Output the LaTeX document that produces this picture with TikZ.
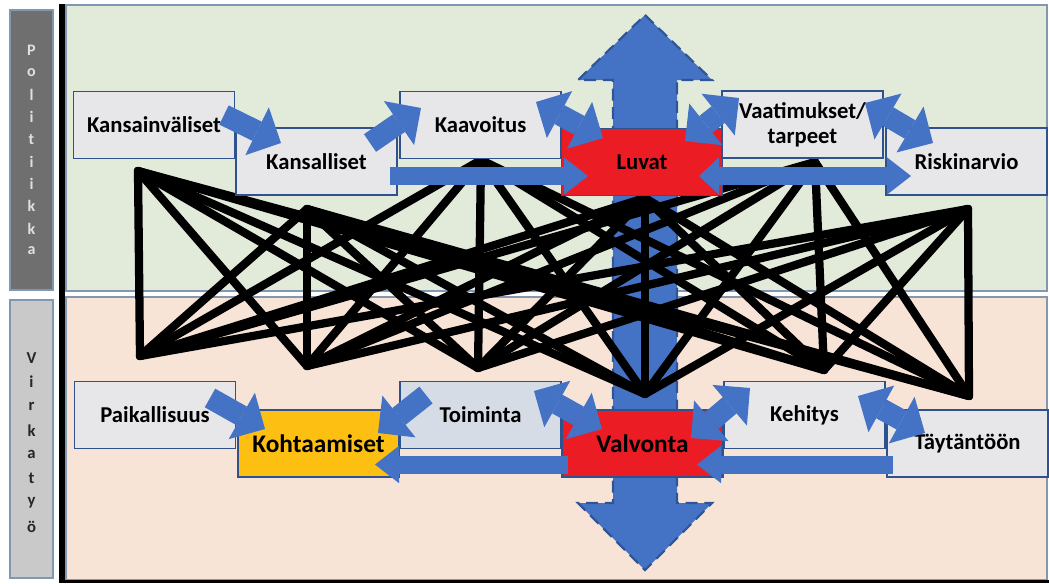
\documentclass[tikz,border=0pt]{standalone}
\usepackage{fontspec}
\setmainfont{Carlito}
\usetikzlibrary{arrows.meta}
\definecolor{bgG}{HTML}{E2EBDA}
\definecolor{bgP}{HTML}{F8E4D7}
\definecolor{boxG}{HTML}{E7E6E8}
\definecolor{boxT}{HTML}{D6DCE5}
\definecolor{bord}{HTML}{2F528F}
\definecolor{ablue}{HTML}{4472C4}
\definecolor{dblue}{HTML}{2F5597}
\definecolor{lred}{HTML}{EC1C24}
\definecolor{kyel}{HTML}{FCBF12}
\definecolor{pgrey}{HTML}{6F6F6F}
\definecolor{vgrey}{HTML}{C9C9C9}
\definecolor{edgeB}{HTML}{8497B0}
\begin{document}
\begin{tikzpicture}[x=0.75pt,y=-0.75pt,
  bx/.style={draw=bord, line width=0.8pt, fill=boxG, minimum width=120.75pt, minimum height=50.25pt,
    inner sep=0pt, align=center, text=black, font=\bfseries\fontsize{17}{18.5}\selectfont},
  big/.style={font=\bfseries\fontsize{19}{20}\selectfont},
  net/.style={line width=6.2pt, line cap=round, line join=round, black},
  sarr/.style={draw=ablue, line width=16pt, -{Triangle[length=20pt,width=40pt,line width=0pt]}},
  darr/.style={draw=ablue, line width=16pt, {Triangle[length=20pt,width=40pt,line width=0pt]}-{Triangle[length=20pt,width=40pt,line width=0pt]}},
  harr/.style={draw=ablue, line width=13.5pt, -{Triangle[length=18pt,width=28pt,line width=0pt]}},
  hdarr/.style={draw=ablue, line width=13.5pt, {Triangle[length=15pt,width=28pt,line width=0pt]}-{Triangle[length=18pt,width=28pt,line width=0pt]}},
  pl/.style={font=\bfseries\fontsize{12}{13}\selectfont, text=black!12, inner sep=0pt},
  vl/.style={font=\bfseries\fontsize{12.5}{13}\selectfont, text=black!85, inner sep=0pt}
]
\useasboundingbox (0,0) rectangle (1049,583);
\fill[white] (0,0) rectangle (1049,583);

% regions
\filldraw[fill=bgG, draw=edgeB, line width=1.2pt] (66,5) rectangle (1047,291);
\filldraw[fill=bgP, draw=edgeB, line width=1.2pt] (66,297) rectangle (1047,580);
\draw[line width=4.5pt] (62,4) -- (62,583);
\draw[line width=2.5pt] (59,581.5) -- (1049,581.5);

% side bars
\filldraw[fill=pgrey, draw=edgeB, line width=0.8pt] (10,10) rectangle (53,290);
\filldraw[fill=vgrey, draw=edgeB, line width=0.8pt] (10,300) rectangle (53,578);
\foreach \ch [count=\i] in {P,o,l,i,t,i,i,k,k,a}
  \node[pl] (pol\i) at (31.5,{50+22.3*(\i-1)}) {\ch};
\foreach \ch [count=\i] in {V,i,r,k,a,t,y,ö}
  \node[vl] (vir\i) at (31.5,{358+24.1*(\i-1)}) {\ch};

% big vertical double arrow
\draw[fill=ablue, draw=dblue, line width=1.6pt, dash pattern=on 9pt off 5pt, line join=miter]
  (645,15) -- (712,80) -- (677,80) -- (677,503) -- (712,503) -- (645,570)
  -- (578,503) -- (613,503) -- (613,80) -- (578,80) -- cycle;

% network points
\coordinate (A) at (138,171);
\coordinate (B) at (307,209);
\coordinate (C) at (481,160);
\coordinate (D) at (645,198);
\coordinate (E) at (815,162);
\coordinate (F) at (968,209);
\coordinate (G) at (140,356);
\coordinate (H) at (307,366);
\coordinate (I) at (478,368);
\coordinate (J) at (645,394);
\coordinate (K) at (824,370);
\coordinate (L) at (969,396);
\foreach \t in {A,B,C,D,E,F}
  \foreach \b in {G,H,I,J,K,L}
    \draw[net] (\t) -- (\b);

% boxes
\node[bx] (kv) at (154,125) {Kansainväliset};
\node[bx] (ks) at (316.5,161.5) {Kansalliset};
\node[bx] (kaa) at (480.5,125) {Kaavoitus};
\node[bx, fill=lred] (luv) at (642,162) {Luvat};
\node[bx] (vaa) at (802.5,124.5) {Vaatimukset/\\tarpeet};
\node[bx] (ris) at (966.5,161.5) {Riskinarvio};
\node[bx] (pai) at (155,415) {Paikallisuus};
\node[bx, fill=kyel, big] (koh) at (318.5,443.5) {Kohtaamiset};
\node[bx, fill=boxT] (toi) at (480.5,415) {Toiminta};
\node[bx, fill=lred, big] (val) at (642.5,443.5) {Valvonta};
\node[bx] (keh) at (804.5,415) {Kehitys};
\node[bx] (tay) at (967.5,443.5) {Täytäntöön};

% block arrows
\coordinate (a1s) at (224,115); \coordinate (a1e) at (281,143);
\coordinate (a2s) at (370,143); \coordinate (a2e) at (421,108);
\coordinate (a3s) at (536,102); \coordinate (a3e) at (603,138);
\coordinate (a4s) at (685,141); \coordinate (a4e) at (739,98);
\coordinate (a5s) at (865,103); \coordinate (a5e) at (933,143);
\coordinate (a6s) at (210,398); \coordinate (a6e) at (265,429);
\coordinate (a7s) at (426,395); \coordinate (a7e) at (378,433);
\coordinate (a8s) at (534,391); \coordinate (a8e) at (602,429);
\coordinate (a9s) at (691,438); \coordinate (a9e) at (750,388);
\coordinate (a10s) at (858,396); \coordinate (a10e) at (925,433);
\draw[sarr] (a1s) -- (a1e);
\draw[sarr] (a2s) -- (a2e);
\draw[darr] (a3s) -- (a3e);
\draw[darr] (a4s) -- (a4e);
\draw[darr] (a5s) -- (a5e);
\draw[sarr] (a6s) -- (a6e);
\draw[sarr] (a7s) -- (a7e);
\draw[darr] (a8s) -- (a8e);
\draw[darr] (a9s) -- (a9e);
\draw[darr] (a10s) -- (a10e);

\coordinate (h1s) at (390,176); \coordinate (h1e) at (588,176);
\coordinate (h2s) at (699,176); \coordinate (h2e) at (911,176);
\coordinate (h3s) at (568,464.5); \coordinate (h3e) at (375,464.5);
\coordinate (h4s) at (893,464.5); \coordinate (h4e) at (697,464.5);
\draw[harr] (h1s) -- (h1e);
\draw[hdarr] (h2s) -- (h2e);
\draw[harr] (h3s) -- (h3e);
\draw[harr] (h4s) -- (h4e);
\end{tikzpicture}
\end{document}
